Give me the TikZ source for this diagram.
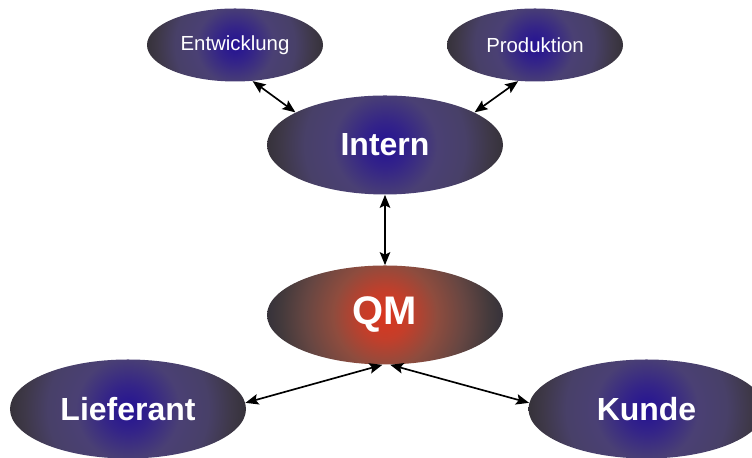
\documentclass[tikz,border=0pt]{standalone}
\usepackage{fontspec}
\setmainfont{Liberation Sans}
\usetikzlibrary{shapes.geometric,arrows.meta}

\definecolor{rimgray}{RGB}{54,50,58}
\definecolor{coreblue}{RGB}{36,18,148}
\definecolor{innerblue}{RGB}{52,36,136}
\definecolor{midblue}{RGB}{74,64,116}
\definecolor{outerblue}{RGB}{72,64,104}
\definecolor{edgeblue}{RGB}{62,56,72}
\definecolor{corered}{RGB}{218,54,30}
\definecolor{innerred}{RGB}{196,62,42}
\definecolor{midred}{RGB}{142,76,62}
\definecolor{outerred}{RGB}{102,70,66}
\definecolor{edgered}{RGB}{68,58,60}
\pgfdeclareradialshading{blueglow}{\pgfpoint{0bp}{0bp}}{color(0bp)=(coreblue);color(5bp)=(innerblue);color(11bp)=(midblue);color(17bp)=(outerblue);color(22bp)=(edgeblue);color(25bp)=(rimgray);color(50bp)=(rimgray)}
\pgfdeclareradialshading{redglow}{\pgfpoint{0bp}{0bp}}{color(0bp)=(corered);color(5bp)=(innerred);color(11bp)=(midred);color(17bp)=(outerred);color(22bp)=(edgered);color(25bp)=(rimgray);color(50bp)=(rimgray)}

\begin{document}
\begin{tikzpicture}[
  bubble/.style={ellipse,inner sep=0pt,text=white},
  glow/.style 2 args={path picture={\shade[shading=#1] (path picture bounding box.center) circle[radius=#2];}},
  small/.style={minimum width=3.52cm,minimum height=1.46cm,glow={blueglow}{1.76cm},font=\fontsize{11.6}{14}\selectfont},
  big/.style={minimum width=4.72cm,minimum height=1.98cm,glow={blueglow}{2.36cm},font=\fontsize{18.2}{22}\selectfont\bfseries},
  link/.style={{Stealth[length=2.6mm,width=2.1mm,inset=0.5mm]}-{Stealth[length=2.6mm,width=2.1mm,inset=0.5mm]},line width=0.95pt}]
\useasboundingbox (0,0) rectangle (15.04,9.16);
\node[bubble,small](ent) at(4.70,8.26){Entwicklung};
\node[bubble,small](prod) at(10.70,8.26){Produktion};
\node[bubble,big](int) at(7.70,6.26){Intern};
\node[bubble,big,glow={redglow}{2.36cm},font=\fontsize{22.7}{27}\selectfont\bfseries](qm) at(7.70,2.86){QM};
\node[bubble,big](lief) at(2.56,0.98){Lieferant};
\node[bubble,big](kunde) at(12.93,0.98){Kunde};

\draw[link](ent.-64)--(int.160);
\draw[link](prod.-115)--(int.20);
\draw[link](int.south)--(qm.north);

\draw[link](qm.-93)--(lief.3);
\draw[link](qm.-84)--(kunde.177);
\end{tikzpicture}
\end{document}
